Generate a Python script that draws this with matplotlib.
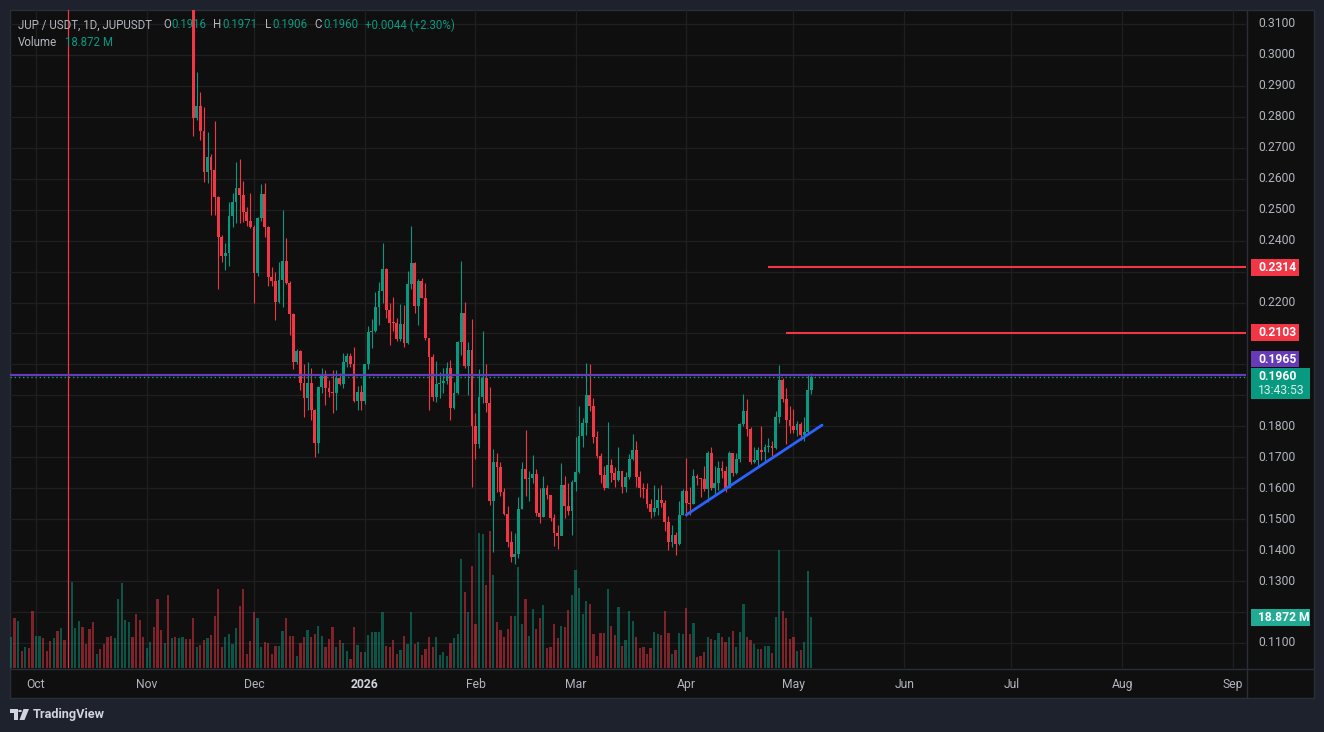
import numpy as np
import pandas as pd
import matplotlib
matplotlib.use("Agg")
import matplotlib.pyplot as plt
import matplotlib.dates as mdates
from matplotlib.patches import Rectangle, Polygon, Circle

plt.rcParams['font.family'] = ['Roboto', 'DejaVu Sans']

# ---------------- data (JUP/USDT daily) ----------------
candle_start = "2025-11-14"
prev_close = 0.3210   # close of Nov 13, above the visible range

closes = [
    0.2795, 0.2835, 0.2755, 0.2623, 0.2671, 0.2628, 0.2540, 0.2413, 0.2351, 0.2361,
    0.2480, 0.2524, 0.2569, 0.2547, 0.2494, 0.2464, 0.2445, 0.2296, 0.2472, 0.2551,
    0.2443, 0.2284, 0.2271, 0.2203, 0.2273, 0.2335, 0.2264, 0.2163, 0.2009, 0.2044,
    0.1941, 0.1891, 0.1941, 0.1853, 0.1745, 0.1928, 0.1966, 0.1924, 0.1912, 0.1907,
    0.1955, 0.1937, 0.2007, 0.2027, 0.2001, 0.1883, 0.1911, 0.1883, 0.2001, 0.2106,
    0.2108, 0.2187, 0.2237, 0.2308, 0.2176, 0.2135, 0.2134, 0.2082, 0.2131, 0.2070,
    0.2260, 0.2327, 0.2190, 0.2270, 0.2216, 0.2084, 0.2023, 0.1896, 0.1937, 0.1939,
    0.1948, 0.1988, 0.1860, 0.1909, 0.2071, 0.2165, 0.1996, 0.2047, 0.1802, 0.1742,
    0.1894, 0.1955, 0.1877, 0.1560, 0.1684, 0.1670, 0.1589, 0.1517, 0.1427, 0.1377,
    0.1388, 0.1532, 0.1662, 0.1629, 0.1634, 0.1646, 0.1521, 0.1508, 0.1600, 0.1578,
    0.1505, 0.1456, 0.1447, 0.1611, 0.1544, 0.1527, 0.1619, 0.1652, 0.1769, 0.1810,
    0.1901, 0.1867, 0.1767, 0.1704, 0.1643, 0.1602, 0.1675, 0.1650, 0.1627, 0.1656,
    0.1605, 0.1637, 0.1694, 0.1724, 0.1637, 0.1600, 0.1597, 0.1549, 0.1524, 0.1537,
    0.1562, 0.1551, 0.1492, 0.1427, 0.1449, 0.1420, 0.1514, 0.1591, 0.1551, 0.1549,
    0.1640, 0.1632, 0.1631, 0.1598, 0.1715, 0.1602, 0.1618, 0.1666, 0.1657, 0.1600,
    0.1713, 0.1650, 0.1693, 0.1808, 0.1850, 0.1790, 0.1686, 0.1691, 0.1724, 0.1718,
    0.1734, 0.1737, 0.1731, 0.1831, 0.1950, 0.1888, 0.1821, 0.1801, 0.1788, 0.1808,
    0.1772, 0.1783, 0.1916, 0.1960,
]
highs = [
    0.3240, 0.2946, 0.2881, 0.2833, 0.2750, 0.2680, 0.2787, 0.2545, 0.2418, 0.2391,
    0.2526, 0.2555, 0.2653, 0.2664, 0.2594, 0.2510, 0.2555, 0.2450, 0.2475, 0.2582,
    0.2585, 0.2448, 0.2316, 0.2300, 0.2330, 0.2499, 0.2408, 0.2268, 0.2165, 0.2050,
    0.2046, 0.2001, 0.2009, 0.1988, 0.1855, 0.1930, 0.1988, 0.1982, 0.1950, 0.1982,
    0.1982, 0.1972, 0.2036, 0.2036, 0.2038, 0.2057, 0.1930, 0.1934, 0.2003, 0.2124,
    0.2146, 0.2235, 0.2267, 0.2393, 0.2310, 0.2200, 0.2217, 0.2149, 0.2195, 0.2192,
    0.2302, 0.2447, 0.2332, 0.2276, 0.2278, 0.2262, 0.2085, 0.2034, 0.2011, 0.1975,
    0.1989, 0.2007, 0.2014, 0.1944, 0.2075, 0.2334, 0.2201, 0.2072, 0.2146, 0.1842,
    0.1985, 0.2108, 0.2001, 0.1926, 0.1727, 0.1715, 0.1684, 0.1600, 0.1544, 0.1462,
    0.1456, 0.1573, 0.1684, 0.1788, 0.1657, 0.1707, 0.1662, 0.1600, 0.1640, 0.1611,
    0.1578, 0.1517, 0.1481, 0.1683, 0.1640, 0.1618, 0.1627, 0.1765, 0.1866, 0.1826,
    0.2006, 0.2001, 0.1891, 0.1785, 0.1713, 0.1672, 0.1815, 0.1694, 0.1670, 0.1732,
    0.1656, 0.1651, 0.1711, 0.1775, 0.1753, 0.1656, 0.1618, 0.1616, 0.1564, 0.1611,
    0.1600, 0.1611, 0.1562, 0.1510, 0.1481, 0.1460, 0.1559, 0.1598, 0.1699, 0.1605,
    0.1662, 0.1645, 0.1634, 0.1672, 0.1721, 0.1732, 0.1672, 0.1688, 0.1688, 0.1672,
    0.1721, 0.1715, 0.1713, 0.1812, 0.1905, 0.1888, 0.1799, 0.1732, 0.1732, 0.1801,
    0.1742, 0.1761, 0.1753, 0.1850, 0.1998, 0.1955, 0.1923, 0.1866, 0.1855, 0.1818,
    0.1813, 0.1831, 0.1969, 0.1971,
]
lows = [
    0.2739, 0.2790, 0.2725, 0.2590, 0.2587, 0.2483, 0.2483, 0.2243, 0.2330, 0.2305,
    0.2319, 0.2445, 0.2456, 0.2456, 0.2459, 0.2447, 0.2440, 0.2198, 0.2285, 0.2465,
    0.2413, 0.2254, 0.2254, 0.2144, 0.2198, 0.2187, 0.2260, 0.2095, 0.1984, 0.2000,
    0.1917, 0.1831, 0.1853, 0.1821, 0.1700, 0.1715, 0.1907, 0.1869, 0.1895, 0.1842,
    0.1853, 0.1934, 0.1923, 0.1993, 0.1993, 0.1880, 0.1853, 0.1853, 0.1872, 0.1984,
    0.2052, 0.2106, 0.2127, 0.2198, 0.2151, 0.2063, 0.2109, 0.2077, 0.2077, 0.2055,
    0.2066, 0.2244, 0.2167, 0.2127, 0.2214, 0.2079, 0.1853, 0.1883, 0.1880, 0.1893,
    0.1909, 0.1937, 0.1821, 0.1856, 0.1904, 0.2031, 0.1988, 0.1901, 0.1605, 0.1694,
    0.1729, 0.1875, 0.1847, 0.1546, 0.1393, 0.1589, 0.1576, 0.1514, 0.1411, 0.1363,
    0.1354, 0.1374, 0.1532, 0.1576, 0.1560, 0.1618, 0.1510, 0.1489, 0.1508, 0.1565,
    0.1495, 0.1414, 0.1404, 0.1449, 0.1503, 0.1514, 0.1449, 0.1592, 0.1650, 0.1732,
    0.1772, 0.1851, 0.1747, 0.1699, 0.1618, 0.1594, 0.1600, 0.1621, 0.1603, 0.1624,
    0.1584, 0.1589, 0.1629, 0.1691, 0.1603, 0.1573, 0.1569, 0.1535, 0.1505, 0.1511,
    0.1514, 0.1540, 0.1462, 0.1400, 0.1411, 0.1384, 0.1417, 0.1514, 0.1511, 0.1514,
    0.1549, 0.1611, 0.1573, 0.1592, 0.1557, 0.1594, 0.1578, 0.1594, 0.1634, 0.1589,
    0.1600, 0.1640, 0.1646, 0.1686, 0.1801, 0.1769, 0.1678, 0.1681, 0.1668, 0.1691,
    0.1684, 0.1718, 0.1704, 0.1727, 0.1812, 0.1880, 0.1743, 0.1778, 0.1780, 0.1770,
    0.1756, 0.1754, 0.1778, 0.1906,
]
# volume in millions of JUP
volumes = [
    18.6, 7.9, 8.6, 10.5, 11.2, 12.3, 19.4, 29.4, 7.9, 11.6,
    12.7, 9.0, 14.9, 23.1, 29.4, 5.3, 10.1, 20.9, 18.6, 7.9,
    9.7, 9.4, 5.3, 8.3, 8.3, 13.8, 18.6, 12.0, 12.0, 4.6,
    9.4, 11.6, 14.2, 11.6, 12.7, 15.7, 12.0, 7.9, 10.9, 15.3,
    7.9, 10.5, 9.4, 6.4, 3.4, 15.3, 8.6, 6.0, 6.0, 12.3,
    13.4, 13.4, 13.4, 20.9, 8.3, 7.9, 10.5, 5.3, 6.8, 12.0,
    9.0, 20.6, 8.9, 9.6, 4.8, 7.0, 11.5, 7.8, 11.5, 4.8,
    5.9, 4.4, 9.3, 11.1, 12.6, 40.4, 28.1, 20.7, 37.8, 16.3,
    50.0, 49.6, 30.7, 50.7, 34.4, 17.0, 14.1, 11.5, 14.4, 19.3,
    19.3, 37.4, 16.3, 25.6, 11.9, 21.9, 14.4, 18.5, 23.3, 7.4,
    7.8, 16.3, 11.1, 15.6, 15.2, 21.5, 27.0, 36.3, 29.6, 20.0,
    24.8, 23.7, 12.6, 4.4, 13.0, 13.0, 29.3, 15.6, 12.2, 22.6,
    8.1, 10.4, 21.1, 17.4, 11.5, 7.4, 7.8, 5.2, 7.4, 13.3,
    12.6, 12.2, 21.1, 13.0, 5.2, 6.7, 13.0, 12.6, 22.2, 12.6,
    16.7, 4.1, 4.4, 5.9, 11.5, 10.7, 10.4, 13.0, 11.5, 9.6,
    11.5, 13.7, 7.8, 13.3, 23.7, 11.5, 10.4, 8.9, 7.0, 7.0,
    8.1, 8.1, 5.6, 18.9, 43.7, 21.1, 18.5, 10.7, 11.5, 6.3,
    6.7, 9.6, 35.9, 18.872,
]

# days whose candles sit above the visible price range (only volume shows)
hidden_start = "2025-09-24"
hidden_volumes = [
    11.6, 18.6, 17.5, 6.3, 7.9, 7.4, 21.2, 12.0, 12.0, 11.1, 6.3, 10.0, 11.1, 13.8, 14.9, 10.4,
    np.nan,
    31.9, 14.9, 17.5, 15.3, 8.9, 14.6, 17.1, 5.2, 7.0, 8.9, 11.6, 12.0, 11.2, 25.7, 31.6, 17.9,
    17.1, 11.6, 20.1, 17.9, 11.6, 7.5, 9.7, 15.3, 25.7, 14.2, 9.4, 27.1, 11.2, 11.6, 11.2, 11.6,
    10.9, 10.9,
]
hidden_dirs = ("udududduudddudud" + "d"
               + "uuuddddudddduuuuudddduudddududuuddd")
crash_day = "2025-10-10"
crash_high, crash_low = 0.4410, 0.0850

price_ticks = [0.11, 0.12, 0.13, 0.14, 0.15, 0.16, 0.17, 0.18, 0.19, 0.20, 0.21,
               0.22, 0.23, 0.24, 0.25, 0.26, 0.27, 0.28, 0.29, 0.30, 0.31]
month_ticks = ["2025-10-01", "2025-11-01", "2025-12-01", "2026-01-01", "2026-02-01",
               "2026-03-01", "2026-04-01", "2026-05-01", "2026-06-01", "2026-07-01",
               "2026-08-01", "2026-09-01"]
month_labels = ["Oct", "Nov", "Dec", "2026", "Feb", "Mar", "Apr", "May", "Jun", "Jul",
                "Aug", "Sep"]

resist_levels = [0.2314, 0.2103]
resist_starts = ["2026-04-24", "2026-04-29"]
alert_level = 0.1965
trend_dates = ["2026-04-01", "2026-05-09"]
trend_prices = [0.1514, 0.1804]
countdown = "13:43:53"

# ---------------- colours ----------------
BG_OUT = "#1e222d"
BG = "#0f0f0f"
GRID = "#1f1f1f"
SEP = "#2a2e39"
UP = "#089981"
DOWN = "#f23645"
TXT = "#b2b5be"
PURPLE = "#673ab7"
BLUE = "#2962ff"

W, H = 1324, 732
fig = plt.figure(figsize=(W / 100, H / 100), dpi=100, facecolor=BG_OUT)


def px_axes(x0, y0, x1, y1):
    a = fig.add_axes([x0 / W, 1 - y1 / H, (x1 - x0) / W, (y1 - y0) / H])
    a.set_axis_off()
    return a


# panel background
fig.patches.append(Rectangle((10 / W, 1 - 698 / H), 1304 / W, 688 / H, transform=fig.transFigure,
                             facecolor=BG, edgecolor=SEP, lw=1.0, zorder=-10))

# x range of the chart
d0 = mdates.date2num(pd.Timestamp("2025-10-01"))
xl, xr = d0 - 7.28, d0 + 338.65
ylo, yhi = 0.10192, 0.31452

ax_g = px_axes(10, 10, 1246, 668)
ax_v = px_axes(10, 10, 1246, 668)
ax = px_axes(10, 10, 1246, 668)
for a in (ax_g, ax_v, ax):
    a.set_xlim(xl, xr)
ax_g.set_ylim(ylo, yhi)
ax.set_ylim(ylo, yhi)
ax_v.set_ylim(0, 243.7)

# grid
mt = mdates.date2num(pd.to_datetime(month_ticks))
for p in price_ticks:
    ax_g.axhline(p, color=GRID, lw=0.9)
for m in mt:
    ax_g.axvline(m, color=GRID, lw=0.9)

# volume
dates = pd.date_range(candle_start, periods=len(closes), freq="D")
xd = mdates.date2num(dates)
opens = np.array([prev_close] + closes[:-1])
c = np.array(closes)
up = c >= opens
hd = pd.date_range(hidden_start, periods=len(hidden_volumes), freq="D")
hx = mdates.date2num(hd)
hcol = [UP if k == "u" else DOWN for k in hidden_dirs]
ax_v.bar(hx, hidden_volumes, width=0.62, color=hcol, alpha=0.5, lw=0)
ax_v.bar(xd, volumes, width=0.62, color=np.where(up, UP, DOWN), alpha=0.5, lw=0)

# candles
col = np.where(up, UP, DOWN)
cx = mdates.date2num(pd.Timestamp(crash_day))
ax.vlines([cx], crash_low, crash_high, color=DOWN, lw=0.9)
ax.vlines(xd, lows, highs, color=col, lw=0.8)
body_lo = np.minimum(opens, c)
body_h = np.maximum(np.abs(c - opens), 0.00032)
ax.bar(xd, body_h, bottom=body_lo, width=0.78, color=col, lw=0)

# drawings
ax.axhline(alert_level, color=PURPLE, lw=1.6)
ax.axhline(closes[-1], color=UP, lw=1.0, ls=(0, (1, 2)))
for lv, st in zip(resist_levels, resist_starts):
    ax.hlines(lv, mdates.date2num(pd.Timestamp(st)), xr, color=DOWN, lw=1.5)
tx = mdates.date2num(pd.to_datetime(trend_dates))
ax.plot(tx, trend_prices, color=BLUE, lw=2.0, solid_capstyle="round")

# separators
fig.add_artist(plt.Line2D([10 / W, 1313 / W], [1 - 668.5 / H] * 2, color=SEP, lw=1))
fig.add_artist(plt.Line2D([1246.5 / W] * 2, [1 - 10 / H, 1 - 697 / H], color=SEP, lw=1))

# price scale
ax_p = px_axes(1247, 10, 1313, 668)
ax_p.set_xlim(0, 66)
ax_p.set_ylim(ylo, yhi)
ppx = (yhi - ylo) / 658.0   # price per pixel
FS = 8.7

last = closes[-1]
yc_al = alert_level + 16 * ppx
ydisp = ax_v.transData.transform((xd[-1], volumes[-1]))[1]
yv = ax_p.transData.inverted().transform((0, ydisp))[1]
# label boxes (centre, half-height in px) so covered tick labels are skipped
covers = [(lv, 9) for lv in resist_levels] + [(yc_al, 9), (last - 7 * ppx, 16), (yv, 8)]
for p in price_ticks:
    if any(abs(p - yc) < hh * ppx for yc, hh in covers):
        continue
    ax_p.text(11, p, f"{p:.4f}", color=TXT, fontsize=FS, va="center", ha="left")


def box(ax_, yc, x0, x1, h_px, fc):
    ax_.add_patch(Rectangle((x0, yc - h_px / 2 * ppx), x1 - x0, h_px * ppx, facecolor=fc,
                            edgecolor="none", zorder=5))


for lv in resist_levels:
    box(ax_p, lv, 4, 52, 17, DOWN)
    ax_p.text(11, lv, f"{lv:.4f}", color="white", fontsize=FS, fontweight="bold",
              va="center", ha="left", zorder=6)
box(ax_p, yc_al, 4, 52, 16, PURPLE)
ax_p.text(11, yc_al, f"{alert_level:.4f}", color="white", fontsize=FS, fontweight="bold",
          va="center", ha="left", zorder=6)
ax_p.add_patch(Rectangle((4, last - 22.5 * ppx), 59, 31 * ppx, facecolor=UP, edgecolor="none",
                         zorder=5))
ax_p.text(11, last, f"{last:.4f}", color="white", fontsize=FS, fontweight="bold",
          va="center", ha="left", zorder=6)
ax_p.text(11, last - 14 * ppx, countdown, color="#d8efe9", fontsize=FS, va="center",
          ha="left", zorder=6)
box(ax_p, yv, 4, 63, 17, "#22ab94")
ax_p.text(11, yv, f"{volumes[-1]:.3f} M", color="white", fontsize=FS, fontweight="bold",
          va="center", ha="left", zorder=6)

# time scale
ax_t = px_axes(10, 669, 1246, 697)
ax_t.set_xlim(xl, xr)
ax_t.set_ylim(0, 1)
for m, lab in zip(mt, month_labels):
    bold = lab.isdigit()
    ax_t.text(m, 0.45, lab, color="#d1d4dc" if bold else TXT, fontsize=FS,
              fontweight="bold" if bold else "normal", ha="center", va="center")

# legend header
o, h, l = opens[-1], highs[-1], lows[-1]
chg = last - o
HFS = 8.3
hdr = [("JUP / USDT, 1D, JUPUSDT", 18, TXT), ("O", 163, TXT), (f"{o:.4f}", 171, UP),
       ("H", 213, TXT), (f"{h:.4f}", 222, UP), ("L", 265, TXT), (f"{l:.4f}", 272, UP),
       ("C", 314, TXT), (f"{last:.4f}", 323, UP),
       (f"{chg:+.4f} ({chg / o * 100:+.2f}%)", 365, UP)]
for s, x, cl in hdr:
    fig.text(x / W, 1 - 25 / H, s, color=cl, fontsize=HFS, va="center", ha="left")
fig.text(18 / W, 1 - 42 / H, "Volume", color=TXT, fontsize=HFS, va="center", ha="left")
fig.text(65 / W, 1 - 42 / H, f"{volumes[-1]:.3f} M", color=UP, fontsize=HFS, va="center",
         ha="left")

# TradingView logo
LOGO = "#d1d4dc"


def fp(x, y):
    return (x / W, 1 - y / H)


fig.patches.append(Polygon([fp(10, 709), fp(17.5, 709), fp(17.5, 720), fp(14, 720), fp(14, 712.5),
                            fp(10, 712.5)], closed=True, transform=fig.transFigure,
                           facecolor=LOGO, edgecolor="none"))
fig.patches.append(Circle(fp(20, 711), 1.9 / W, transform=fig.transFigure, facecolor=LOGO,
                          edgecolor="none"))
fig.patches.append(Polygon([fp(23.5, 709), fp(29, 709), fp(24.5, 720), fp(19.5, 720)], closed=True,
                           transform=fig.transFigure, facecolor=LOGO, edgecolor="none"))
fig.text(33 / W, 1 - 714.5 / H, "TradingView", color=LOGO, fontsize=9.2, fontweight="semibold",
         va="center", ha="left")

fig.savefig("out.png", dpi=100, facecolor=BG_OUT)
